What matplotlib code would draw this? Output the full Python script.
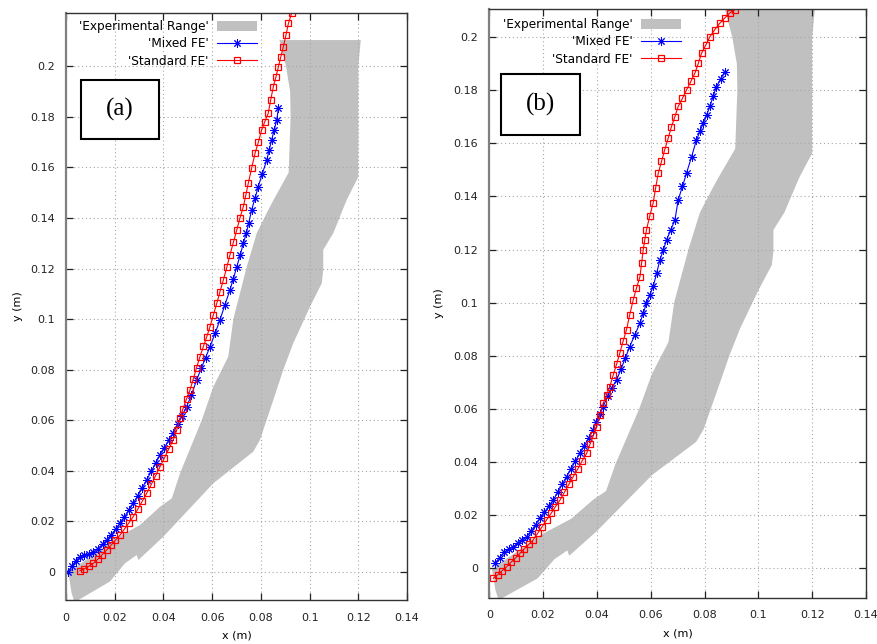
import matplotlib
matplotlib.use("Agg")
import matplotlib.pyplot as plt
from matplotlib.patches import Rectangle
from matplotlib.ticker import FuncFormatter

# experimental range (same outline in both panels)
exp_x = [0.0876, 0.0903, 0.0920, 0.0922, 0.0914, 0.0851, 0.0824, 0.0783, 0.0742,
         0.0700, 0.0687, 0.0666, 0.0605, 0.0557, 0.0468, 0.0434, 0.0386, 0.0304,
         0.0194, 0.0099, 0.0023, 0.0010, 0.0023, 0.0035,
         0.0180, 0.0242, 0.0290, 0.0297, 0.0400, 0.0605, 0.0769, 0.0796, 0.0851,
         0.0892, 0.0933, 0.1002, 0.1050, 0.1056, 0.1056, 0.1097, 0.1152, 0.1200,
         0.1200, 0.1210]
exp_y = [0.2104, 0.2000, 0.1900, 0.1800, 0.1580, 0.1470, 0.1420, 0.1340, 0.1207,
         0.1050, 0.1000, 0.0852, 0.0733, 0.0600, 0.0390, 0.0291, 0.0258, 0.0186,
         0.0127, 0.0060, 0.0008, -0.0005, -0.0084, -0.0120,
         -0.0038, 0.0034, 0.0067, 0.0047, 0.0140, 0.0351, 0.0476, 0.0522, 0.0680,
         0.0800, 0.0905, 0.1050, 0.1142, 0.1194, 0.1274, 0.1340, 0.1471, 0.1563,
         0.2000, 0.2104]

# panel (a)
a_mixed_x = [0.0010, 0.0025, 0.0040, 0.0057, 0.0075, 0.0095, 0.0112, 0.0130, 0.0150,
             0.0167, 0.0185, 0.0205, 0.0222, 0.0240, 0.0258, 0.0276, 0.0295, 0.0313,
             0.0331, 0.0350, 0.0368, 0.0386, 0.0404, 0.0422, 0.0440, 0.0458, 0.0476,
             0.0495, 0.0515, 0.0536, 0.0555, 0.0573, 0.0591, 0.0612, 0.0632, 0.0652,
             0.0673, 0.0687, 0.0701, 0.0715, 0.0728, 0.0740, 0.0750, 0.0762, 0.0776,
             0.0789, 0.0806, 0.0824, 0.0834, 0.0844, 0.0855, 0.0865, 0.0872]
a_mixed_y = [0.0000, 0.0025, 0.0045, 0.0060, 0.0066, 0.0070, 0.0078, 0.0092, 0.0110,
             0.0127, 0.0148, 0.0170, 0.0193, 0.0218, 0.0245, 0.0272, 0.0302, 0.0333,
             0.0364, 0.0398, 0.0430, 0.0463, 0.0492, 0.0520, 0.0549, 0.0584, 0.0618,
             0.0654, 0.0700, 0.0759, 0.0805, 0.0848, 0.0891, 0.0944, 0.0997, 0.1056,
             0.1115, 0.1160, 0.1207, 0.1253, 0.1300, 0.1340, 0.1379, 0.1432, 0.1478,
             0.1524, 0.1576, 0.1629, 0.1669, 0.1709, 0.1749, 0.1788, 0.1834]
a_std_x = [0.0057, 0.0075, 0.0093, 0.0112, 0.0130, 0.0148, 0.0167, 0.0185, 0.0203,
           0.0222, 0.0240, 0.0258, 0.0276, 0.0295, 0.0313, 0.0331, 0.0350, 0.0368,
           0.0386, 0.0404, 0.0422, 0.0440, 0.0454, 0.0468, 0.0480, 0.0495, 0.0509,
           0.0523, 0.0536, 0.0550, 0.0564, 0.0578, 0.0591, 0.0605, 0.0619, 0.0632,
           0.0646, 0.0660, 0.0673, 0.0687, 0.0701, 0.0714, 0.0728, 0.0738, 0.0748,
           0.0762, 0.0776, 0.0790, 0.0803, 0.0816, 0.0830, 0.0840, 0.0851, 0.0862,
           0.0872, 0.0882, 0.0892, 0.0903, 0.0913, 0.0926]
a_std_y = [0.0005, 0.0012, 0.0022, 0.0034, 0.0050, 0.0068, 0.0087, 0.0106, 0.0126,
           0.0146, 0.0170, 0.0194, 0.0219, 0.0249, 0.0280, 0.0311, 0.0346, 0.0381,
           0.0416, 0.0451, 0.0487, 0.0522, 0.0560, 0.0608, 0.0645, 0.0685, 0.0720,
           0.0765, 0.0808, 0.0852, 0.0892, 0.0931, 0.0970, 0.1017, 0.1063, 0.1109,
           0.1155, 0.1205, 0.1254, 0.1304, 0.1353, 0.1400, 0.1445, 0.1490, 0.1537,
           0.1597, 0.1656, 0.1702, 0.1748, 0.1781, 0.1814, 0.1866, 0.1919, 0.1959,
           0.1999, 0.2038, 0.2077, 0.2124, 0.2170, 0.2210]

# panel (b)
b_mixed_x = [0.0021, 0.0038, 0.0055, 0.0072, 0.0089, 0.0105, 0.0122, 0.0139, 0.0155,
             0.0172, 0.0188, 0.0205, 0.0222, 0.0238, 0.0254, 0.0271, 0.0287, 0.0304,
             0.0320, 0.0337, 0.0353, 0.0370, 0.0386, 0.0398, 0.0411, 0.0423, 0.0440,
             0.0456, 0.0473, 0.0490, 0.0506, 0.0522, 0.0541, 0.0560, 0.0572, 0.0584,
             0.0597, 0.0609, 0.0622, 0.0634, 0.0647, 0.0659, 0.0675, 0.0690, 0.0702,
             0.0718, 0.0733, 0.0752, 0.0770, 0.0783, 0.0795, 0.0808, 0.0820, 0.0832,
             0.0844, 0.0860, 0.0875]
b_mixed_y = [0.0019, 0.0040, 0.0060, 0.0072, 0.0081, 0.0094, 0.0106, 0.0119, 0.0140,
             0.0164, 0.0188, 0.0211, 0.0234, 0.0257, 0.0286, 0.0316, 0.0345, 0.0374,
             0.0404, 0.0433, 0.0462, 0.0492, 0.0521, 0.0550, 0.0580, 0.0609, 0.0647,
             0.0680, 0.0709, 0.0751, 0.0793, 0.0835, 0.0879, 0.0923, 0.0960, 0.0998,
             0.1030, 0.1061, 0.1111, 0.1161, 0.1199, 0.1237, 0.1275, 0.1312, 0.1387,
             0.1438, 0.1488, 0.1550, 0.1613, 0.1645, 0.1676, 0.1708, 0.1739, 0.1777,
             0.1814, 0.1842, 0.1870]
b_std_x = [0.0015, 0.0032, 0.0048, 0.0065, 0.0081, 0.0098, 0.0114, 0.0130, 0.0147,
           0.0163, 0.0180, 0.0197, 0.0213, 0.0230, 0.0246, 0.0263, 0.0279, 0.0296,
           0.0312, 0.0329, 0.0345, 0.0362, 0.0374, 0.0387, 0.0399, 0.0411, 0.0423,
           0.0436, 0.0448, 0.0460, 0.0473, 0.0485, 0.0497, 0.0510, 0.0522, 0.0535,
           0.0547, 0.0560, 0.0566, 0.0572, 0.0578, 0.0584, 0.0596, 0.0609, 0.0618,
           0.0628, 0.0640, 0.0652, 0.0665, 0.0677, 0.0690, 0.0702, 0.0718, 0.0733,
           0.0749, 0.0764, 0.0777, 0.0789, 0.0805, 0.0820, 0.0838, 0.0857, 0.0875,
           0.0894, 0.0912]
b_std_y = [-0.0038, -0.0024, -0.0009, 0.0006, 0.0023, 0.0039, 0.0056, 0.0073, 0.0090,
           0.0107, 0.0132, 0.0157, 0.0182, 0.0207, 0.0232, 0.0257, 0.0286, 0.0316,
           0.0345, 0.0374, 0.0404, 0.0433, 0.0466, 0.0500, 0.0533, 0.0577, 0.0621,
           0.0652, 0.0684, 0.0726, 0.0768, 0.0810, 0.0854, 0.0898, 0.0955, 0.1011,
           0.1055, 0.1098, 0.1149, 0.1199, 0.1237, 0.1274, 0.1325, 0.1375, 0.1431,
           0.1488, 0.1532, 0.1576, 0.1620, 0.1663, 0.1701, 0.1739, 0.1770, 0.1801,
           0.1833, 0.1864, 0.1902, 0.1940, 0.1971, 0.2002, 0.2028, 0.2053, 0.2072,
           0.2091, 0.2103]

x_ticks = [0, 0.02, 0.04, 0.06, 0.08, 0.1, 0.12, 0.14]
y_ticks = [0, 0.02, 0.04, 0.06, 0.08, 0.1, 0.12, 0.14, 0.16, 0.18, 0.2]

FS = 8


def draw_panel(fig, rect, tag, mixed, std, ylim, tag_box, leg_anchor, ylab_x):
    ax = fig.add_axes(rect)
    ax.fill(exp_x, exp_y, color="#c0c0c0", lw=0, label="'Experimental Range'")
    ax.plot(mixed[0], mixed[1], color="#0000ff", lw=0.8, marker=(8, 2, 0),
            ms=6, mew=0.7, label="'Mixed FE'")
    ax.plot(std[0], std[1], color="#ff0000", lw=0.8, marker="s", ms=5,
            mfc="none", mew=0.9, label="'Standard FE'")

    ax.set_xlim(0, 0.14)
    ax.set_ylim(*ylim)
    ax.set_xticks(x_ticks)
    ax.set_yticks(y_ticks)
    fmt = FuncFormatter(lambda v, p: f"{round(v, 4):g}")
    ax.xaxis.set_major_formatter(fmt)
    ax.yaxis.set_major_formatter(fmt)
    ax.tick_params(direction="in", length=5, width=0.9, top=True, right=True,
                   labelsize=FS, colors="#222222")
    ax.tick_params(axis="y", pad=8)
    ax.tick_params(axis="x", pad=9)
    ax.grid(True, color="#a8a8a8", linestyle=(0, (1, 2.5)), lw=0.8)
    for s in ax.spines.values():
        s.set_color("#333333")
        s.set_linewidth(1.0)
    ax.spines["left"].set_color("#808080")
    ax.spines["left"].set_linewidth(1.6)

    ax.set_xlabel("x (m)", fontsize=FS)
    ax.set_ylabel("y (m)", fontsize=FS)
    ax.xaxis.set_label_coords(0.5, -0.052)
    ax.yaxis.set_label_coords(ylab_x, 0.5)

    ax.legend(loc="upper right", bbox_to_anchor=leg_anchor, frameon=False,
              markerfirst=False, fontsize=8.7, borderpad=0, labelspacing=0.35,
              handlelength=3.3, handleheight=0.9, handletextpad=0.7,
              borderaxespad=0)

    bx, by, bw, bh = tag_box
    ax.add_patch(Rectangle((bx, by), bw, bh, transform=ax.transAxes,
                           fill=True, fc="white", ec="black", lw=1.5, zorder=5))
    ax.text(bx + bw / 2, by + bh / 2, tag, transform=ax.transAxes,
            ha="center", va="center", fontsize=18, family="Liberation Serif",
            zorder=6)
    return ax


fig = plt.figure(figsize=(8.78, 6.44), dpi=100)

draw_panel(fig, [0.0752, 0.0683, 0.3884, 0.9115], "(a)",
           (a_mixed_x, a_mixed_y), (a_std_x, a_std_y), (-0.0111, 0.2211),
           (0.043, 0.785, 0.231, 0.101), (0.560, 0.988), -0.127)
draw_panel(fig, [0.5573, 0.0719, 0.4290, 0.9137], "(b)",
           (b_mixed_x, b_mixed_y), (b_std_x, b_std_y), (-0.0111, 0.2105),
           (0.030, 0.786, 0.210, 0.104), (0.509, 0.985), -0.120)

fig.savefig("out.png", dpi=100)
